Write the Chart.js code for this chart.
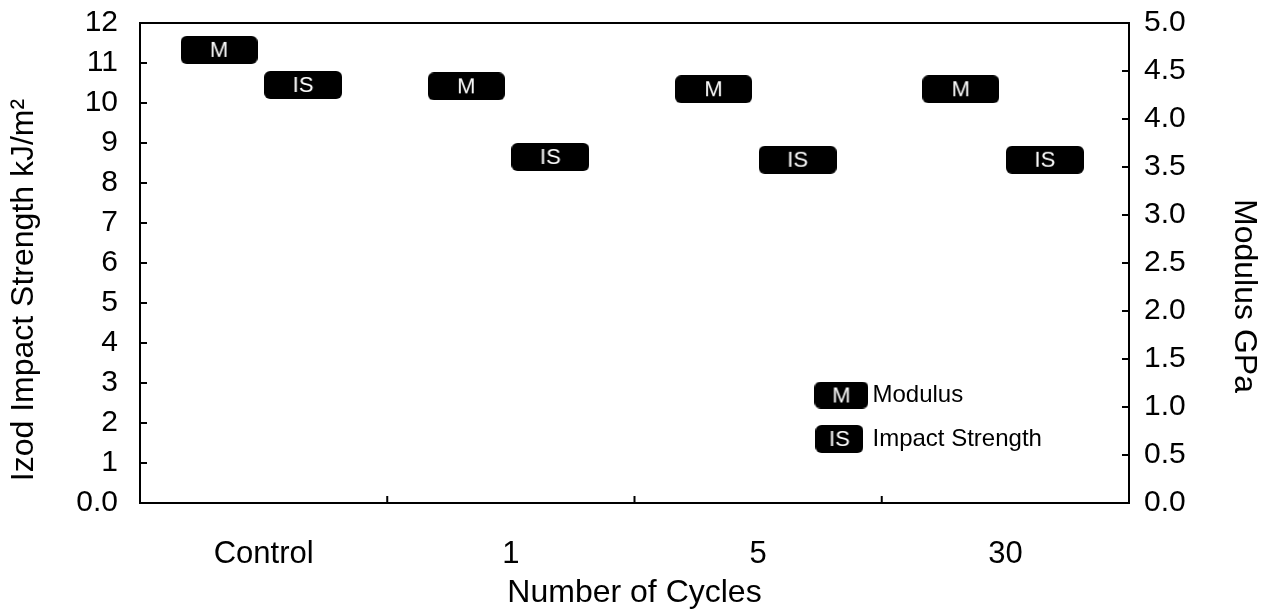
<!DOCTYPE html>
<html>
<head>
<meta charset="utf-8">
<script src="https://cdn.jsdelivr.net/npm/chart.js@4.4.1/dist/chart.umd.min.js"></script>
<style>
  html, body { margin: 0; padding: 0; background: #fff; }
  #wrap { position: relative; width: 1270px; height: 613px; }
</style>
</head>
<body>
<div id="wrap"><canvas id="chart"></canvas></div>
<script>
// data
const cycles = ['Control', '1', '5', '30'];
const modulusGPa = [4.72, 4.34, 4.31, 4.31];
const impactStrength = [10.45, 8.65, 8.58, 8.58];
const legendBadges = ['M', 'IS'];
const legendLabels = ['Modulus', 'Impact Strength'];
const leftTitle = 'Izod Impact Strength kJ/m²';
const rightTitle = 'Modulus GPa';

const FONT = '"Liberation Sans", Arial, Helvetica, sans-serif';
const M_SHIFT = -0.18;   // badges sit left / right of the category centre
const IS_SHIFT = 0.16;
const CLEAR = 'rgba(0,0,0,0)';

// black rounded badge with white text, used as a point style
function makeBadge(text, w, h, size) {
  const c = document.createElement('canvas');
  c.width = w; c.height = h;
  const g = c.getContext('2d');
  g.fillStyle = '#000';
  g.beginPath();
  g.roundRect(0, 0, w, h, 6);
  g.fill();
  g.fillStyle = '#fff';
  g.font = size + 'px ' + FONT;
  g.textAlign = 'center';
  g.textBaseline = 'middle';
  g.fillText(text, w / 2, h / 2 + 1);
  return c;
}

const badgeM = makeBadge(legendBadges[0], 77, 28, 22);
const badgeIS = makeBadge(legendBadges[1], 78, 28, 22);
const legendImgs = [makeBadge(legendBadges[0], 54, 27, 22), makeBadge(legendBadges[1], 48, 28, 22)];

// box, inward tick marks, side titles and the in-plot legend
const frame = {
  id: 'frame',
  beforeDatasetsDraw(chart) {
    const { ctx, chartArea: a, scales } = chart;
    ctx.save();
    ctx.strokeStyle = '#000';
    ctx.lineWidth = 2;
    ctx.strokeRect(a.left, a.top, a.right - a.left, a.bottom - a.top);
    ctx.beginPath();
    scales.y.ticks.forEach(t => {
      const y = scales.y.getPixelForValue(t.value);
      ctx.moveTo(a.left, y); ctx.lineTo(a.left + 7, y);
    });
    scales.y2.ticks.forEach(t => {
      const y = scales.y2.getPixelForValue(t.value);
      ctx.moveTo(a.right, y); ctx.lineTo(a.right - 7, y);
    });
    for (let i = 1; i < cycles.length; i++) {
      const x = (scales.x.getPixelForTick(i - 1) + scales.x.getPixelForTick(i)) / 2;
      ctx.moveTo(x, a.bottom); ctx.lineTo(x, a.bottom - 7);
    }
    ctx.stroke();

    // axis titles sit a little below the axis middle in the original
    const midY = (a.top + a.bottom) / 2;
    ctx.fillStyle = '#000';
    ctx.textAlign = 'center';
    ctx.textBaseline = 'middle';
    ctx.font = '32px ' + FONT;
    ctx.save();
    ctx.translate(24, midY + 27);
    ctx.rotate(-Math.PI / 2);
    ctx.fillText(leftTitle, 0, 0);
    ctx.restore();
    ctx.save();
    ctx.translate(1244, midY + 33);
    ctx.rotate(Math.PI / 2);
    ctx.fillText(rightTitle, 0, 0);
    ctx.restore();
    ctx.restore();
  },
  afterDraw(chart) {
    const { ctx, chartArea: a } = chart;
    const x0 = a.left + (a.right - a.left) * 0.682;
    const y0 = a.top + (a.bottom - a.top) * 0.775;
    ctx.save();
    ctx.font = '24px ' + FONT;
    ctx.fillStyle = '#000';
    ctx.textBaseline = 'middle';
    legendImgs.forEach((img, i) => {
      const cy = y0 + i * 44;
      ctx.drawImage(img, x0 + (i ? 1 : 0), cy - img.height / 2);
      ctx.fillText(legendLabels[i], x0 + 58, cy);
    });
    ctx.restore();
  }
};

new Chart(document.getElementById('chart'), {
  type: 'scatter',
  data: {
    datasets: [
      {
        label: 'Modulus',
        data: modulusGPa.map((v, i) => ({ x: i + M_SHIFT, y: v })),
        xAxisID: 'xp',
        yAxisID: 'y2',
        pointStyle: badgeM,
        pointRadius: 14
      },
      {
        label: 'Impact Strength',
        data: impactStrength.map((v, i) => ({ x: i + IS_SHIFT, y: v })),
        xAxisID: 'xp',
        yAxisID: 'y',
        pointStyle: badgeIS,
        pointRadius: 14
      }
    ]
  },
  options: {
    responsive: true,
    maintainAspectRatio: false,
    animation: false,
    layout: { padding: { top: 23, left: 0, right: 0, bottom: 0 } },
    plugins: { legend: { display: false }, tooltip: { enabled: false } },
    scales: {
      x: {
        type: 'category',
        labels: cycles,
        position: 'bottom',
        offset: true,
        grid: { display: false, drawTicks: false },
        border: { display: false },
        ticks: { color: '#000', font: { family: FONT, size: 31 }, padding: 33, maxRotation: 0 },
        title: { display: true, text: 'Number of Cycles', color: '#000', font: { family: FONT, size: 32 }, padding: { top: 0, bottom: 1 } },
        afterFit: s => { s.height = 110; }
      },
      xp: {
        type: 'linear',
        display: false,
        min: -0.5,
        max: cycles.length - 0.5
      },
      y: {
        position: 'left',
        min: 0, max: 12,
        grid: { drawOnChartArea: false, color: CLEAR, tickLength: 22 },
        border: { display: false },
        ticks: { stepSize: 1, autoSkip: false, color: '#000', font: { family: FONT, size: 30 }, padding: 0,
          callback: v => v === 0 ? '0.0' : String(v) },
        afterFit: s => { s.width = 140; }
      },
      y2: {
        position: 'right',
        min: 0, max: 5,
        grid: { drawOnChartArea: false, color: CLEAR, tickLength: 15 },
        border: { display: false },
        ticks: { stepSize: 0.5, autoSkip: false, color: '#000', font: { family: FONT, size: 30 }, padding: 0,
          callback: v => v.toFixed(1) },
        afterFit: s => { s.width = 141; }
      }
    }
  },
  plugins: [frame]
});
</script>
</body>
</html>
